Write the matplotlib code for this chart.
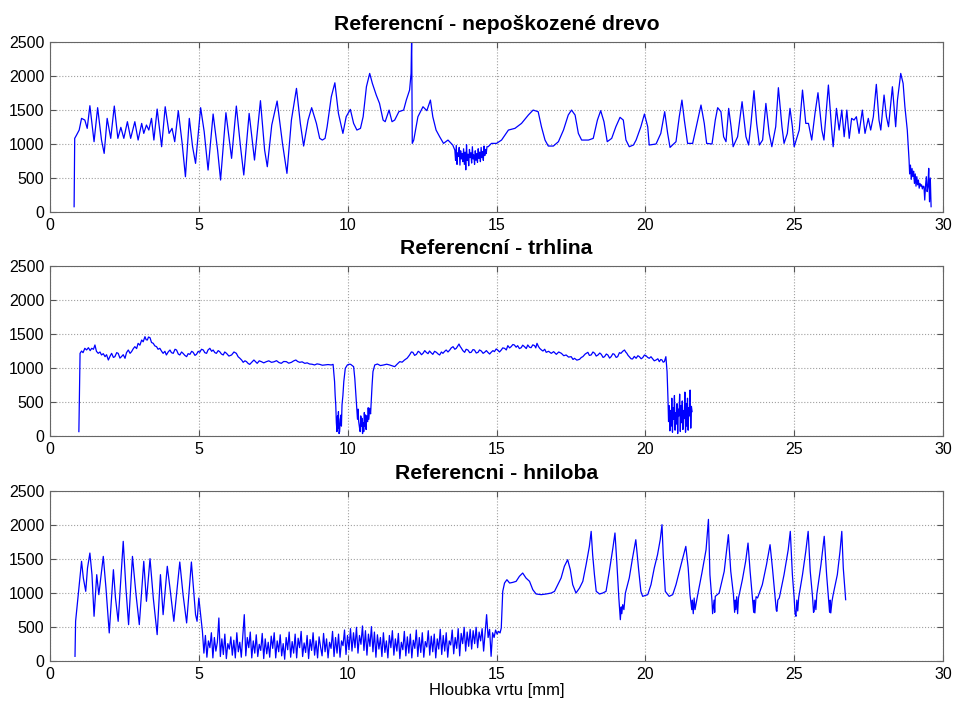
import numpy as np
import matplotlib
matplotlib.use('Agg')
import matplotlib.pyplot as plt

plt.rcParams['font.family'] = ['Liberation Sans', 'DejaVu Sans']

titles = ['Referencní - nepoškozené drevo', 'Referencní - trhlina', 'Referencni - hniloba']
x_label = 'Hloubka vrtu [mm]'
x_ticks = [0, 5, 10, 15, 20, 25, 30]
y_ticks = [0, 500, 1000, 1500, 2000, 2500]

# --- panel 1: healthy wood (depth mm, drilling resistance) ---
healthy_start = [
    (0.81, 78), (0.83, 1083), (0.89, 1130), (0.98, 1205), (1.06, 1377), (1.17, 1352), (1.25, 1230),
    (1.34, 1563), (1.48, 1034), (1.60, 1534), (1.73, 1058), (1.82, 862), (1.92, 1377), (2.04, 1083),
    (2.16, 1558), (2.28, 1083), (2.38, 1245), (2.48, 1083), (2.60, 1328), (2.71, 1083), (2.85, 1328),
    (2.96, 1058), (3.08, 1303), (3.15, 1156), (3.24, 1279), (3.32, 1205), (3.41, 1377), (3.49, 1058),
    (3.60, 1514), (3.75, 960), (3.87, 1548), (4.00, 1156), (4.10, 1230), (4.19, 1034), (4.31, 1490),
    (4.44, 1009), (4.55, 519), (4.68, 1377), (4.79, 960), (4.89, 715), (5.06, 1534), (5.18, 1181),
    (5.31, 617), (5.48, 1441), (5.63, 911), (5.73, 470), (5.91, 1460), (6.10, 789), (6.26, 1558),
    (6.40, 960), (6.51, 544), (6.69, 1450), (6.87, 764), (7.07, 1637), (7.21, 911), (7.30, 666),
    (7.45, 1279), (7.63, 1632), (7.81, 1009), (7.96, 568), (8.11, 1352), (8.28, 1818), (8.41, 1303),
    (8.52, 970), (8.67, 1352), (8.79, 1534), (8.95, 1303), (9.06, 1083), (9.15, 1058), (9.24, 1083),
    (9.31, 1254), (9.45, 1695), (9.57, 1900), (9.69, 1450), (9.84, 1156), (9.95, 1401), (10.09, 1509),
    (10.20, 1303), (10.31, 1205), (10.43, 1230), (10.52, 1401), (10.63, 1842), (10.74, 2038),
    (10.83, 1891), (10.96, 1720), (11.07, 1597), (11.19, 1352), (11.26, 1328), (11.39, 1499),
    (11.49, 1328), (11.58, 1352), (11.72, 1475), (11.88, 1499), (11.97, 1646), (12.08, 1793),
    (12.13, 2038), (12.15, 2600), (12.17, 1009), (12.22, 1058), (12.36, 1401), (12.53, 1548),
    (12.66, 1490), (12.78, 1646), (12.86, 1401), (12.97, 1205), (13.09, 1107), (13.22, 1009),
    (13.37, 1058), (13.53, 985),
]
healthy_noise = [911, 760, 980, 700, 870, 820, 950, 690, 900, 780, 860, 740, 930, 700, 880, 620,
                 990, 760, 850, 680, 920, 800, 870, 720, 960, 780, 840, 700, 900, 760, 860, 730,
                 930, 790, 880, 740, 950, 800, 890, 760, 970, 830, 920, 860, 960]
healthy_noise_range = (13.6, 14.68)
healthy_end = [
    (14.72, 960), (14.83, 1009), (15.0, 1009), (15.17, 1058), (15.40, 1205), (15.62, 1230),
    (15.84, 1303), (16.07, 1426), (16.23, 1499), (16.40, 1475), (16.51, 1254), (16.63, 1058),
    (16.74, 970), (16.91, 970), (17.08, 1034), (17.25, 1205), (17.41, 1426), (17.52, 1499),
    (17.64, 1426), (17.75, 1156), (17.86, 1058), (18.09, 1058), (18.25, 1083), (18.39, 1352),
    (18.50, 1490), (18.61, 1328), (18.72, 1034), (18.87, 1083), (19.01, 1254), (19.15, 1392),
    (19.26, 1352), (19.35, 1058), (19.46, 960), (19.60, 985), (19.69, 1058), (19.85, 1254),
    (19.97, 1441), (20.08, 1254), (20.13, 985), (20.36, 1000), (20.52, 1156), (20.65, 1475),
    (20.75, 1156), (20.83, 950), (21.03, 1034), (21.14, 1401), (21.23, 1646), (21.31, 1352),
    (21.42, 1009), (21.59, 1009), (21.76, 1352), (21.87, 1573), (21.98, 1303), (22.06, 1009),
    (22.24, 1000), (22.35, 1352), (22.43, 1534), (22.54, 1475), (22.63, 1107), (22.71, 1034),
    (22.80, 1524), (22.88, 1254), (22.95, 960), (23.10, 1107), (23.25, 1622), (23.38, 1107),
    (23.47, 985), (23.55, 1303), (23.65, 1784), (23.74, 1303), (23.83, 985), (23.94, 1058),
    (24.05, 1597), (24.16, 1156), (24.25, 960), (24.38, 1254), (24.47, 1828), (24.59, 1254),
    (24.66, 1009), (24.77, 1156), (24.86, 1524), (24.94, 1254), (25.00, 960), (25.17, 1205),
    (25.28, 1793), (25.39, 1303), (25.48, 1303), (25.59, 1058), (25.70, 1450), (25.80, 1754),
    (25.93, 1205), (26.00, 1058), (26.15, 1867), (26.27, 1156), (26.31, 960), (26.42, 1524),
    (26.51, 1205), (26.60, 1499), (26.68, 1107), (26.77, 1499), (26.85, 1083), (26.93, 1377),
    (27.01, 1352), (27.09, 1401), (27.18, 1156), (27.29, 1499), (27.38, 1156), (27.49, 1377),
    (27.57, 1205), (27.66, 1401), (27.76, 1877), (27.85, 1352), (27.91, 1205), (28.02, 1720),
    (28.10, 1401), (28.17, 1254), (28.30, 1842), (28.41, 1254), (28.47, 1646), (28.58, 2038),
    (28.66, 1891), (28.72, 1548), (28.80, 1205), (28.86, 764),
]
healthy_tail = [560, 690, 480, 640, 520, 600, 420, 560, 380, 520, 400, 470, 350, 420, 380,
                400, 340, 380, 372, 176, 390, 519, 300, 372, 642, 150, 500, 78]
healthy_tail_range = (28.88, 29.6)

# --- panel 2: crack ---
crack_main = [
    (0.97, 69), (1.01, 1220), (1.06, 1254), (1.11, 1230), (1.17, 1294), (1.23, 1270), (1.29, 1303),
    (1.35, 1260), (1.40, 1294), (1.46, 1280), (1.51, 1343), (1.56, 1250), (1.62, 1220), (1.68, 1240),
    (1.73, 1196), (1.79, 1215), (1.85, 1171), (1.90, 1200), (1.96, 1122), (2.02, 1180), (2.07, 1220),
    (2.13, 1160), (2.18, 1171), (2.24, 1230), (2.29, 1220), (2.35, 1150), (2.40, 1171), (2.46, 1200),
    (2.52, 1147), (2.57, 1230), (2.63, 1269), (2.69, 1220), (2.74, 1245), (2.80, 1290), (2.85, 1318),
    (2.91, 1290), (2.96, 1367), (3.02, 1340), (3.08, 1416), (3.13, 1390), (3.19, 1465), (3.23, 1420),
    (3.27, 1416), (3.31, 1460), (3.36, 1450), (3.41, 1380), (3.47, 1367), (3.52, 1330), (3.58, 1318),
    (3.63, 1280), (3.69, 1294), (3.75, 1250), (3.80, 1220), (3.86, 1250), (3.91, 1196), (3.97, 1240),
    (4.03, 1269), (4.08, 1230), (4.14, 1220), (4.20, 1280), (4.25, 1269), (4.31, 1210), (4.36, 1196),
    (4.42, 1240), (4.47, 1220), (4.53, 1190), (4.59, 1171), (4.64, 1215), (4.70, 1205), (4.76, 1250),
    (4.81, 1235), (4.87, 1190), (4.92, 1205), (4.98, 1250), (5.03, 1235), (5.09, 1280), (5.15, 1269),
    (5.20, 1230), (5.26, 1220), (5.31, 1270), (5.37, 1294), (5.43, 1250), (5.48, 1269), (5.54, 1230),
    (5.59, 1220), (5.65, 1260), (5.70, 1245), (5.76, 1210), (5.82, 1196), (5.87, 1240), (5.93, 1220),
    (6.01, 1180), (6.10, 1196), (6.18, 1240), (6.26, 1220), (6.32, 1170), (6.38, 1147), (6.44, 1120),
    (6.49, 1088), (6.55, 1110), (6.60, 1098), (6.66, 1070), (6.71, 1058), (6.78, 1090), (6.85, 1122),
    (6.90, 1100), (6.96, 1073), (7.03, 1110), (7.10, 1098), (7.18, 1080), (7.27, 1098), (7.35, 1110),
    (7.44, 1088), (7.52, 1095), (7.61, 1112), (7.69, 1085), (7.77, 1073), (7.85, 1100), (7.94, 1098),
    (8.02, 1075), (8.11, 1088), (8.19, 1110), (8.26, 1122), (8.32, 1100), (8.39, 1088), (8.47, 1095),
    (8.56, 1073), (8.64, 1080), (8.72, 1063), (8.80, 1060), (8.89, 1049), (8.97, 1065), (9.06, 1058),
    (9.15, 1045), (9.23, 1049), (9.34, 1055), (9.45, 1049), (9.51, 1058), (9.56, 804), (9.58, 600),
    (9.60, 461), (9.62, 200), (9.64, 69), (9.66, 300), (9.67, 120), (9.69, 363), (9.71, 40),
    (9.73, 69), (9.75, 250), (9.78, 314), (9.79, 150), (9.81, 461), (9.84, 600), (9.87, 804),
    (9.92, 1000), (9.99, 1049), (10.05, 1060), (10.10, 1058), (10.20, 1024), (10.24, 850),
    (10.27, 657), (10.31, 412), (10.33, 250), (10.35, 400), (10.37, 216), (10.40, 120), (10.42, 69),
    (10.44, 300), (10.46, 150), (10.48, 265), (10.50, 40), (10.52, 200), (10.54, 69), (10.56, 350),
    (10.58, 150), (10.60, 314), (10.62, 100), (10.64, 300), (10.67, 216), (10.69, 420), (10.71, 250),
    (10.74, 412), (10.77, 330), (10.79, 510), (10.82, 750), (10.85, 951), (10.91, 1049), (11.0, 1063),
    (11.1, 1040), (11.21, 1049), (11.31, 1060), (11.41, 1049), (11.5, 1035), (11.58, 1024),
    (11.66, 1060), (11.75, 1098), (11.83, 1090), (11.91, 1122), (12.0, 1150), (12.08, 1196),
    (12.14, 1240), (12.19, 1235), (12.25, 1190), (12.31, 1205), (12.37, 1250), (12.42, 1235),
    (12.48, 1200), (12.53, 1220), (12.59, 1260), (12.64, 1235), (12.70, 1215), (12.75, 1254),
    (12.80, 1230), (12.86, 1205), (12.92, 1250), (12.98, 1235), (13.04, 1210), (13.09, 1196),
    (13.15, 1240), (13.20, 1220), (13.26, 1250), (13.31, 1269), (13.37, 1240), (13.43, 1269),
    (13.48, 1300), (13.54, 1318), (13.60, 1280), (13.65, 1294), (13.70, 1330), (13.74, 1357),
    (13.78, 1320), (13.81, 1303), (13.87, 1260), (13.93, 1235), (13.98, 1280), (14.04, 1269),
    (14.10, 1230), (14.15, 1235), (14.21, 1275), (14.26, 1269), (14.32, 1225), (14.38, 1235),
    (14.43, 1270), (14.49, 1254), (14.55, 1220), (14.60, 1235), (14.66, 1260), (14.71, 1235),
    (14.77, 1210), (14.82, 1235), (14.88, 1260), (14.93, 1245), (14.99, 1285), (15.04, 1269),
    (15.10, 1240), (15.16, 1269), (15.21, 1300), (15.27, 1294), (15.33, 1270), (15.38, 1333),
    (15.44, 1300), (15.49, 1318), (15.55, 1350), (15.60, 1343), (15.66, 1310), (15.71, 1333),
    (15.77, 1290), (15.83, 1303), (15.88, 1340), (15.94, 1318), (16.00, 1290), (16.05, 1343),
    (16.11, 1310), (16.16, 1303), (16.22, 1345), (16.28, 1333), (16.32, 1300), (16.36, 1367),
    (16.41, 1320), (16.45, 1294), (16.51, 1270), (16.56, 1254), (16.62, 1280), (16.67, 1235),
    (16.75, 1250), (16.84, 1220), (16.92, 1245), (17.01, 1205), (17.09, 1240), (17.18, 1220),
    (17.26, 1185), (17.34, 1196), (17.42, 1165), (17.51, 1171), (17.57, 1130), (17.62, 1147),
    (17.70, 1120), (17.79, 1132), (17.85, 1160), (17.90, 1171), (17.98, 1210), (18.07, 1235),
    (18.12, 1190), (18.18, 1196), (18.24, 1240), (18.30, 1220), (18.35, 1180), (18.41, 1196),
    (18.47, 1225), (18.52, 1205), (18.58, 1160), (18.63, 1171), (18.69, 1210), (18.74, 1196),
    (18.80, 1150), (18.85, 1171), (18.91, 1215), (18.96, 1205), (19.02, 1160), (19.07, 1171),
    (19.13, 1230), (19.18, 1220), (19.24, 1250), (19.30, 1269), (19.34, 1240), (19.38, 1220),
    (19.42, 1190), (19.46, 1171), (19.52, 1140), (19.57, 1137), (19.63, 1175), (19.69, 1147),
    (19.75, 1185), (19.80, 1171), (19.86, 1140), (19.91, 1156), (19.97, 1195), (20.02, 1186),
    (20.08, 1160), (20.13, 1147), (20.19, 1170), (20.25, 1137), (20.30, 1110), (20.36, 1122),
    (20.42, 1140), (20.47, 1098), (20.52, 1130), (20.56, 1122), (20.60, 1090), (20.64, 1098),
    (20.69, 1171), (20.73, 951), (20.76, 559),
]
crack_tail = [216, 450, 80, 380, 150, 560, 60, 420, 250, 600, 90, 350, 180, 480, 40, 400, 300,
              620, 70, 450, 200, 520, 100, 380, 260, 650, 60, 480, 150, 560, 90, 420, 300, 680,
              120, 440, 363]
crack_tail_range = (20.78, 21.57)

# --- panel 3: rot ---
rot_start = [
    (0.84, 73), (0.86, 588), (0.95, 980), (1.06, 1470), (1.12, 1225), (1.20, 1029), (1.26, 1372),
    (1.34, 1592), (1.41, 1274), (1.48, 662), (1.57, 1274), (1.64, 980), (1.79, 1543), (1.88, 1078),
    (1.99, 417), (2.13, 1347), (2.20, 931), (2.29, 588), (2.39, 1274), (2.46, 1764), (2.55, 1078),
    (2.64, 539), (2.77, 1543), (2.89, 980), (3.00, 539), (3.15, 1470), (3.24, 882), (3.36, 1509),
    (3.47, 931), (3.60, 392), (3.71, 1274), (3.80, 686), (3.94, 1397), (4.03, 1078), (4.16, 588),
    (4.36, 1460), (4.47, 980), (4.59, 564), (4.75, 1460), (4.89, 686), (4.94, 588), (5.00, 931),
    (5.06, 686),
]
rot_noise = [
    441, 120, 380, 60, 300, 200, 420, 50, 350, 150, 280, 637, 70, 330, 100, 400, 40, 260, 180, 360,
    90, 310, 50, 420, 140, 280, 60, 380, 686, 80, 350, 200, 430, 50, 300, 120, 390, 70, 250, 160,
    410, 40, 330, 110, 280, 60, 370, 190, 420, 50, 300, 140, 390, 80, 260, 30, 350, 170, 430, 60,
    290, 120, 400, 50, 340, 200, 440, 70, 270, 130, 380, 40, 320, 160, 420, 90, 300, 50, 360, 210,
    80, 410, 140, 330, 50, 280, 190, 440, 70, 350, 120, 400, 60, 300, 230, 460, 100, 380, 170, 480,
    150, 420, 200, 500, 120, 380, 250, 520, 160, 450, 90, 400, 220, 510, 140, 430, 60, 390, 180, 350,
    70, 420, 130, 300, 50, 380, 200, 450, 90, 330, 150, 410, 40, 280, 170, 440, 80, 360, 120, 400,
    50, 310, 190, 460, 70, 350, 130, 420, 60, 290, 210, 450, 90, 370, 140, 400, 50, 330, 180, 470,
    100, 380, 150, 420, 60, 300, 240, 460, 110, 350, 190, 480, 80, 410, 260, 500, 150, 430, 220, 470,
    180, 450, 260, 500, 200, 430, 300, 480, 150, 420, 686, 350, 470, 73, 420, 350, 460, 400, 440, 417,
]
rot_noise_range = (5.12, 15.12)
rot_end = [
    (15.16, 490), (15.21, 1029), (15.27, 1151), (15.35, 1200), (15.44, 1151), (15.55, 1161),
    (15.66, 1176), (15.77, 1250), (15.88, 1298), (15.99, 1225), (16.11, 1176), (16.22, 1053),
    (16.33, 990), (16.50, 980), (16.67, 990), (16.84, 1004), (16.95, 1029), (17.06, 1127),
    (17.17, 1225), (17.28, 1397), (17.39, 1494), (17.48, 1347), (17.56, 1127), (17.67, 1004),
    (17.79, 1078), (17.90, 1176), (18.01, 1421), (18.12, 1690), (18.18, 1911), (18.23, 1568),
    (18.29, 1274), (18.35, 1029), (18.46, 990), (18.57, 1004), (18.68, 1029), (18.79, 1323),
    (18.91, 1666), (18.98, 1887), (19.04, 1470), (19.11, 931), (19.14, 750), (19.16, 612),
    (19.19, 800), (19.21, 700), (19.24, 833), (19.28, 760), (19.33, 1004), (19.46, 1225),
    (19.57, 1519), (19.68, 1788), (19.77, 1372), (19.85, 1029), (19.91, 955), (20.08, 980),
    (20.19, 1127), (20.30, 1372), (20.41, 1568), (20.50, 1788), (20.56, 2009), (20.60, 1568),
    (20.67, 1029), (20.80, 955), (20.92, 980), (21.03, 1127), (21.20, 1421), (21.36, 1690),
    (21.44, 1372), (21.50, 980), (21.56, 760), (21.58, 900), (21.61, 700), (21.64, 931),
    (21.67, 760), (21.76, 980), (21.90, 1298), (22.04, 1641), (22.12, 2087), (22.17, 1274),
    (22.24, 882), (22.26, 700), (22.28, 784), (22.31, 900), (22.33, 720), (22.35, 955),
    (22.48, 1004), (22.65, 1323), (22.79, 1862), (22.87, 1323), (22.96, 980), (23.00, 720),
    (23.02, 900), (23.04, 760), (23.07, 950), (23.10, 700), (23.13, 931), (23.26, 1200),
    (23.37, 1470), (23.45, 1739), (23.52, 1323), (23.60, 931), (23.64, 720), (23.66, 900),
    (23.68, 711), (23.72, 950), (23.77, 931), (23.93, 1127), (24.07, 1421), (24.19, 1715),
    (24.27, 1372), (24.35, 980), (24.40, 750), (24.42, 735), (24.45, 900), (24.50, 931),
    (24.66, 1274), (24.80, 1641), (24.87, 1911), (24.94, 1274), (25.00, 931), (25.03, 700),
    (25.06, 662), (25.09, 900), (25.12, 740), (25.15, 931), (25.28, 1274), (25.39, 1617),
    (25.47, 1911), (25.54, 1323), (25.62, 931), (25.65, 720), (25.67, 735), (25.70, 900),
    (25.73, 760), (25.76, 980), (25.90, 1421), (26.01, 1838), (26.09, 1274), (26.15, 931),
    (26.19, 720), (26.21, 900), (26.23, 711), (26.27, 880), (26.31, 980), (26.45, 1274),
    (26.54, 1617), (26.60, 1911), (26.65, 1372), (26.73, 906),
]


def build_series(parts):
    # parts: list of either [(x, y), ...] or (values, (x0, x1))
    xs = []
    ys = []
    for part in parts:
        if isinstance(part, tuple):
            vals, (x0, x1) = part
            xs.extend(np.linspace(x0, x1, len(vals)))
            ys.extend(vals)
        else:
            xs.extend(p[0] for p in part)
            ys.extend(p[1] for p in part)
    return np.array(xs), np.array(ys)


series = [
    build_series([healthy_start, (healthy_noise, healthy_noise_range), healthy_end,
                  (healthy_tail, healthy_tail_range)]),
    build_series([crack_main, (crack_tail, crack_tail_range)]),
    build_series([rot_start, (rot_noise, rot_noise_range), rot_end]),
]

fig = plt.figure(figsize=(9.54, 7.04), dpi=100)
left = 50 / 954
width = 893 / 954
height = 170 / 704
bottoms = [1 - 212 / 704, 1 - 436.3 / 704, 1 - 661.3 / 704]

for i in range(3):
    ax = fig.add_axes([left, bottoms[i], width, height])
    xs, ys = series[i]
    ax.plot(xs, ys, color='#0000ff', lw=0.9)
    ax.set_xlim(0, 30)
    ax.set_ylim(0, 2500)
    ax.set_xticks(x_ticks)
    ax.set_yticks(y_ticks)
    ax.grid(True, linestyle=':', color='#a0a0a0', lw=0.8)
    ax.tick_params(direction='in', top=True, right=True, length=4, labelsize=11.5,
                   color='#555555', pad=4)
    for sp in ax.spines.values():
        sp.set_color('#666666')
        sp.set_linewidth(0.8)
    ax.set_title(titles[i], fontsize=15.2, fontweight='bold', pad=9)
    if i == 2:
        ax.set_xlabel(x_label, fontsize=12, labelpad=1)

fig.savefig('out.png', dpi=100)
